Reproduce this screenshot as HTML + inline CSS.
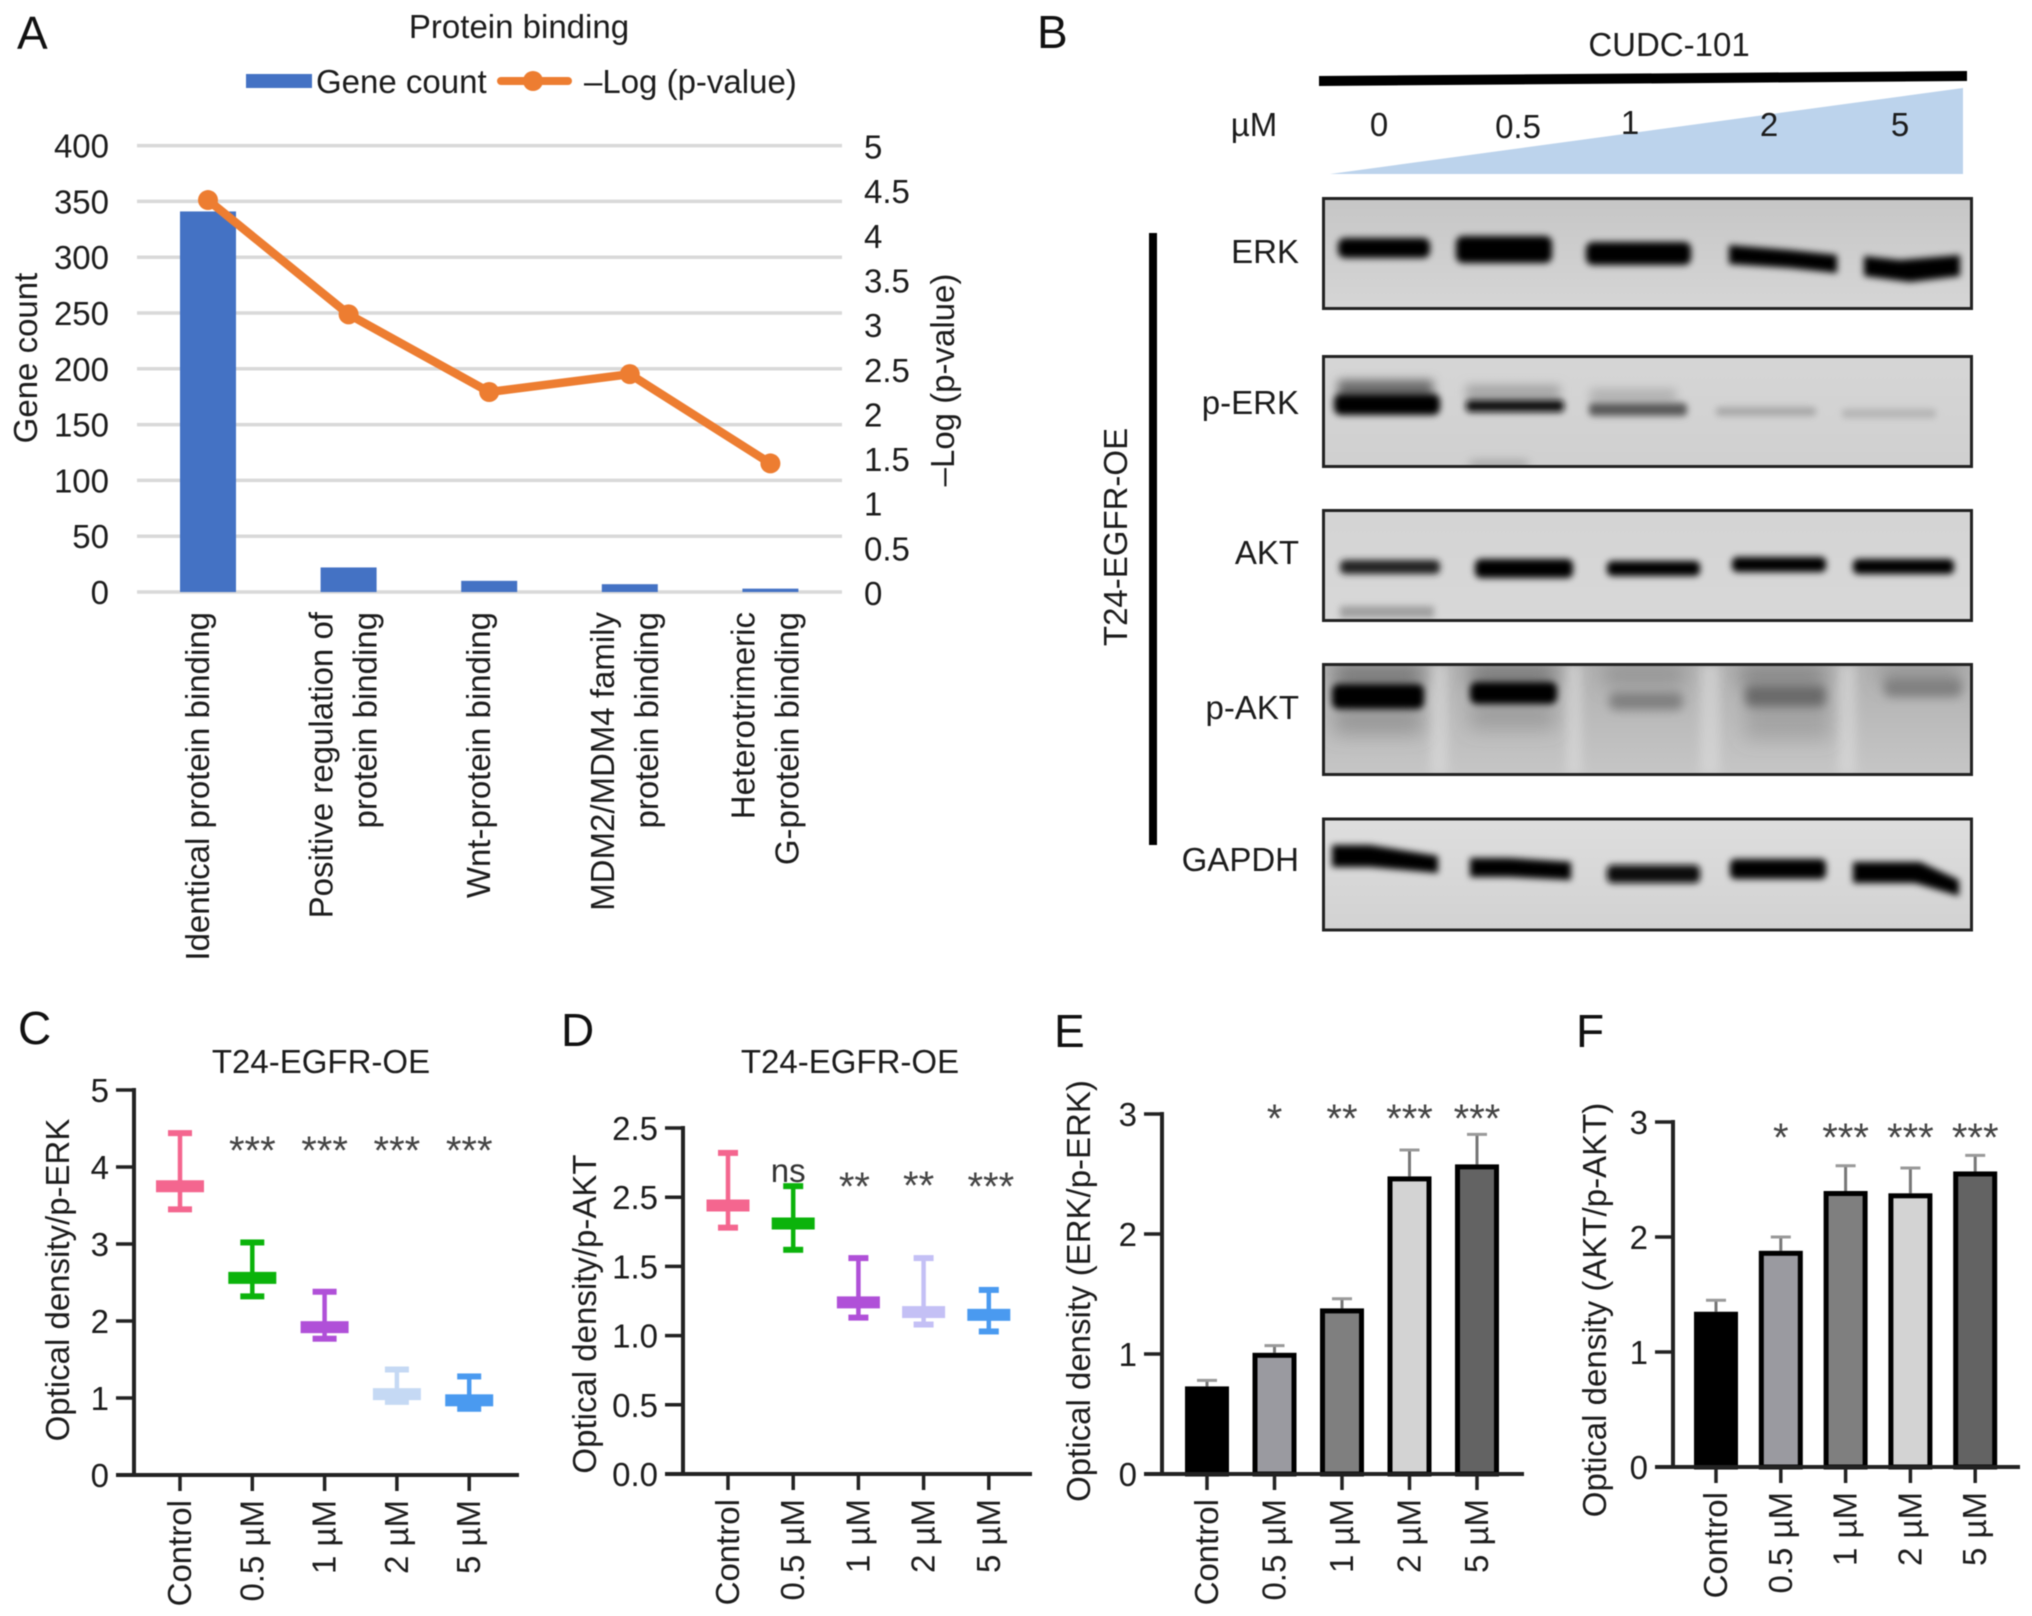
<!DOCTYPE html>
<html lang="en">
<head>
<meta charset="utf-8">
<title>Protein binding and CUDC-101 western blot figure</title>
<style>
html,body{margin:0;padding:0;background:#fff;}
svg{display:block;filter:blur(0.6px);}
text{font-family:"Liberation Sans",sans-serif;fill:#1c1c1c;font-size:33px;}
.panel{font-size:46px;fill:#111;}
</style>
</head>
<body>
<svg id="figure" xmlns="http://www.w3.org/2000/svg" width="2032" height="1616" viewBox="0 0 2032 1616">
<defs>
<filter id="b2" x="-30%" y="-200%" width="160%" height="500%"><feGaussianBlur stdDeviation="3.5"/></filter>
<filter id="b4" x="-30%" y="-200%" width="160%" height="500%"><feGaussianBlur stdDeviation="5"/></filter>
<filter id="b7" x="-40%" y="-150%" width="180%" height="400%"><feGaussianBlur stdDeviation="9"/></filter>
<clipPath id="clip-erk"><rect x="1322" y="197" width="650" height="113"/></clipPath>
<clipPath id="clip-perk"><rect x="1322" y="355" width="650" height="112"/></clipPath>
<clipPath id="clip-akt"><rect x="1322" y="510" width="650" height="111"/></clipPath>
<clipPath id="clip-pakt"><rect x="1322" y="664" width="650" height="111"/></clipPath>
<clipPath id="clip-gapdh"><rect x="1322" y="818" width="650" height="112"/></clipPath>
<linearGradient id="g-erk" x1="0" y1="0" x2="0" y2="1"><stop offset="0" stop-color="#c6c6c6"/><stop offset="1" stop-color="#d6d6d6"/></linearGradient>
<linearGradient id="g-perk" x1="0" y1="0" x2="0" y2="1"><stop offset="0" stop-color="#d6d6d6"/><stop offset="1" stop-color="#d0d0d0"/></linearGradient>
<linearGradient id="g-akt" x1="0" y1="0" x2="0" y2="1"><stop offset="0" stop-color="#d4d4d4"/><stop offset="1" stop-color="#d8d8d8"/></linearGradient>
<linearGradient id="g-pakt" x1="0" y1="0" x2="0" y2="1"><stop offset="0" stop-color="#b0b0b0"/><stop offset="1" stop-color="#c6c6c6"/></linearGradient>
<linearGradient id="g-gapdh" x1="0" y1="0" x2="0" y2="1"><stop offset="0" stop-color="#dedede"/><stop offset="1" stop-color="#d2d2d2"/></linearGradient>
</defs>

<!-- Panel letters -->
<text class="panel" x="17" y="49">A</text>
<text class="panel" x="1037" y="48">B</text>
<text class="panel" x="18" y="1044">C</text>
<text class="panel" x="561" y="1046">D</text>
<text class="panel" x="1054" y="1047">E</text>
<text class="panel" x="1576" y="1047">F</text>

<!-- Panel A static parts -->
<text x="519" y="38" text-anchor="middle">Protein binding</text>
<g>
<rect x="246" y="74" width="66" height="14" fill="#4472c4"/>
<text x="316" y="93">Gene count</text>
<line x1="501" y1="81" x2="568" y2="81" stroke="#ed7d31" stroke-width="8" stroke-linecap="round"/>
<circle cx="533" cy="81" r="10" fill="#ed7d31"/>
<text x="584" y="93">–Log (p-value)</text>
</g>
<text transform="translate(37 358) rotate(-90)" text-anchor="middle">Gene count</text>
<text transform="translate(954 380) rotate(-90)" text-anchor="middle">–Log (p-value)</text>

<!-- Panel B -->
<g>
<text x="1669" y="56" text-anchor="middle">CUDC-101</text>
<polygon points="1319,76 1967,71 1967,81 1319,86" fill="#000"/>
<polygon points="1330,174 1963,174 1963,88" fill="#bcd3ec"/>
<text x="1254" y="136" text-anchor="middle">µM</text>
<text x="1379" y="136" text-anchor="middle">0</text>
<text x="1518" y="138" text-anchor="middle">0.5</text>
<text x="1630" y="134" text-anchor="middle">1</text>
<text x="1769" y="136" text-anchor="middle">2</text>
<text x="1900" y="136" text-anchor="middle">5</text>
<rect x="1149" y="233" width="8" height="612" fill="#000"/>
<text transform="translate(1127 537) rotate(-90)" text-anchor="middle">T24-EGFR-OE</text>
<text x="1299" y="263" text-anchor="end">ERK</text>
<text x="1299" y="414" text-anchor="end">p-ERK</text>
<text x="1299" y="564" text-anchor="end">AKT</text>
<text x="1299" y="719" text-anchor="end">p-AKT</text>
<text x="1299" y="871" text-anchor="end">GAPDH</text>

<g clip-path="url(#clip-erk)">
<rect x="1322" y="197" width="650" height="113" fill="url(#g-erk)"/>
<g filter="url(#b2)" fill="#050505">
<rect x="1338" y="238" width="92" height="20" rx="7"/>
<rect x="1456" y="236" width="96" height="27" rx="7"/>
<rect x="1586" y="242" width="105" height="23" rx="7"/>
<polygon points="1729,245 1790,250 1837,255 1837,273 1790,268 1729,264"/>
<polygon points="1864,256 1900,260 1960,255 1960,276 1910,282 1864,276"/>
</g>
</g>

<g clip-path="url(#clip-perk)">
<rect x="1322" y="355" width="650" height="112" fill="url(#g-perk)"/>
<g filter="url(#b4)">
<rect x="1338" y="380" width="95" height="18" fill="#6a6a6a"/>
<rect x="1466" y="385" width="94" height="14" fill="#a4a4a4"/>
<rect x="1590" y="389" width="86" height="13" fill="#b0b0b0"/>
<rect x="1470" y="461" width="58" height="7" fill="#999"/>
</g>
<g filter="url(#b2)">
<rect x="1334" y="394" width="106" height="21" rx="7" fill="#000"/>
<rect x="1466" y="400" width="98" height="12" rx="4" fill="#111"/>
<rect x="1589" y="403" width="98" height="13" rx="4" fill="#5a5a5a"/>
<rect x="1716" y="407" width="100" height="9" rx="3" fill="#a8a8a8"/>
<rect x="1842" y="409" width="94" height="9" rx="3" fill="#b4b4b4"/>
</g>
</g>

<g clip-path="url(#clip-akt)">
<rect x="1322" y="510" width="650" height="111" fill="url(#g-akt)"/>
<g filter="url(#b2)">
<rect x="1340" y="560" width="100" height="14" rx="5" fill="#222"/>
<rect x="1475" y="559" width="98" height="19" rx="6" fill="#000"/>
<rect x="1607" y="561" width="93" height="15" rx="5" fill="#050505"/>
<rect x="1732" y="557" width="94" height="15" rx="5" fill="#050505"/>
<rect x="1853" y="559" width="101" height="15" rx="5" fill="#000"/>
<rect x="1340" y="606" width="94" height="12" fill="#a0a0a0"/>
</g>
</g>

<g clip-path="url(#clip-pakt)">
<rect x="1322" y="664" width="650" height="111" fill="url(#g-pakt)"/>
<g filter="url(#b4)" fill="#dcdcdc" opacity=".6">
<rect x="1430" y="664" width="18" height="111"/>
<rect x="1566" y="664" width="16" height="111"/>
<rect x="1700" y="664" width="20" height="111"/>
<rect x="1838" y="664" width="18" height="111"/>
</g>
<g filter="url(#b7)" fill="#777">
<rect x="1334" y="664" width="88" height="24"/>
<rect x="1470" y="664" width="85" height="22"/>
<rect x="1604" y="664" width="80" height="22" opacity=".5"/>
<rect x="1740" y="664" width="85" height="24" opacity=".7"/>
<rect x="1880" y="664" width="80" height="20" opacity=".5"/>
<rect x="1334" y="705" width="88" height="30" opacity=".5"/>
<rect x="1470" y="700" width="85" height="30" opacity=".4"/>
<rect x="1745" y="700" width="85" height="40" opacity=".35"/>
</g>
<g filter="url(#b2)">
<rect x="1332" y="684" width="92" height="25" rx="7" fill="#000"/>
<rect x="1470" y="682" width="87" height="22" rx="7" fill="#050505"/>
</g>
<g filter="url(#b4)">
<rect x="1609" y="692" width="74" height="18" rx="7" fill="#808080"/>
<rect x="1745" y="685" width="81" height="22" rx="7" fill="#6a6a6a"/>
<rect x="1884" y="678" width="78" height="19" rx="7" fill="#808080"/>
</g>
</g>

<g clip-path="url(#clip-gapdh)">
<rect x="1322" y="818" width="650" height="112" fill="url(#g-gapdh)"/>
<g filter="url(#b2)" fill="#000">
<polygon points="1332,845 1370,845 1438,856 1438,873 1370,867 1332,867"/>
<polygon points="1470,858 1510,858 1571,862 1571,880 1510,877 1470,877"/>
<rect x="1607" y="865" width="93" height="18" rx="5" fill="#111"/>
<rect x="1730" y="859" width="96" height="20" rx="5"/>
<polygon points="1853,862 1920,862 1959,880 1959,896 1915,883 1853,883"/>
</g>
</g>
<g fill="none" stroke="#222" stroke-width="3">
<rect x="1323.5" y="198.5" width="648" height="110"/>
<rect x="1323.5" y="356.5" width="648" height="110"/>
<rect x="1323.5" y="510.5" width="648" height="110"/>
<rect x="1323.5" y="664.5" width="648" height="110"/>
<rect x="1323.5" y="819" width="648" height="111"/>
</g>
</g>

<!-- Panel C and D static titles -->
<text x="321" y="1073" text-anchor="middle">T24-EGFR-OE</text>
<text x="850" y="1073" text-anchor="middle">T24-EGFR-OE</text>
<text transform="translate(69 1280) rotate(-90)" text-anchor="middle">Optical density/p-ERK</text>
<text transform="translate(596 1314) rotate(-90)" text-anchor="middle">Optical density/p-AKT</text>
<text transform="translate(1090 1291) rotate(-90)" text-anchor="middle">Optical density (ERK/p-ERK)</text>
<text transform="translate(1606 1310) rotate(-90)" text-anchor="middle">Optical density (AKT/p-AKT)</text>

<g id="charts"></g>
</svg>
<script>
// Panel A data
const aCategories = [["Identical protein binding"],["Positive regulation of","protein binding"],["Wnt-protein binding"],["MDM2/MDM4 family","protein binding"],["Heterotrimeric","G-protein binding"]];
const aGeneCounts = [341,22,10,7,3];
const aLogP = [4.39,3.11,2.24,2.44,1.44];
const aLeftTicks = [0,50,100,150,200,250,300,350,400];
const aRightTicks = [0,0.5,1,1.5,2,2.5,3,3.5,4,4.5,5];

// Shared doses
const doseLabels = ["Control","0.5 µM","1 µM","2 µM","5 µM"];

// Panel C data
const cMeans = [3.75,2.56,1.92,1.05,0.97];
const cHighs = [4.44,3.02,2.38,1.37,1.28];
const cLows = [3.45,2.32,1.77,0.95,0.86];
const cTicks = [0,1,2,3,4,5];
const cTickLabels = ["0","1","2","3","4","5"];
const cMarks = ["","***","***","***","***"];

// Panel D data
const dMeans = [1.94,1.81,1.24,1.17,1.15];
const dHighs = [2.32,2.08,1.56,1.56,1.33];
const dLows = [1.78,1.62,1.13,1.08,1.03];
const dTicks = [0,0.5,1,1.5,2,2.5];
const dTickLabels = ["0.0","0.5","1.0","1.5","2.5","2.5"];
const dMarks = ["","ns","**","**","***"];

// Panel E data
const eValues = [0.73,1.01,1.38,2.48,2.58];
const eErrorTops = [0.78,1.07,1.46,2.70,2.83];
const eTicks = [0,1,2,3];
const eMarks = ["","*","**","***","***"];

// Panel F data
const fValues = [1.35,1.88,2.40,2.38,2.57];
const fErrorTops = [1.45,2.00,2.62,2.60,2.71];
const fTicks = [0,1,2,3];
const fMarks = ["","*","***","***","***"];

const NS = 'http://www.w3.org/2000/svg';
const root = document.getElementById('charts');
function make(parent, tag, props, content) {
  const el = document.createElementNS(NS, tag);
  for (const k in props) el.setAttribute(k, props[k]);
  if (content !== undefined) el.textContent = content;
  parent.appendChild(el);
  return el;
}
function group(name) {
  const g = make(root, 'g', {});
  
  
  return g;
}
function linear(d0, d1, r0, r1) {
  return v => r0 + (v - d0) / (d1 - d0) * (r1 - r0);
}

/* ---------- Panel A ---------- */
(function () {
  const g = group('chart-a');
  const xCenters = aCategories.map((c, i) => 208 + i * 140.6);
  const yLeft = linear(0, 400, 592, 145.6);
  const yRight = linear(0, 5, 592, 145.6);
  aLeftTicks.forEach(t => {
    const grid = make(g, 'line', {x1: 137, x2: 842, y1: yLeft(t), y2: yLeft(t), stroke: '#d9d9d9', 'stroke-width': 3.5});
    
    
    const lab = make(g, 'text', {x: 109, y: yLeft(t) + 12, 'text-anchor': 'end'}, String(t));
    
    
  });
  aRightTicks.forEach(t => {
    const lab = make(g, 'text', {x: 864, y: yRight(t) + 13}, String(t));
    
    
  });
  aGeneCounts.forEach((v, i) => {
    const bar = make(g, 'rect', {x: xCenters[i] - 28, y: yLeft(v), width: 56, height: yLeft(0) - yLeft(v), fill: '#4472c4'});
    
    
  });
  const pts = aLogP.map((v, i) => xCenters[i] + ',' + yRight(v)).join(' ');
  const line = make(g, 'polyline', {points: pts, fill: 'none', stroke: '#ed7d31', 'stroke-width': 8.5, 'stroke-linejoin': 'round', 'stroke-linecap': 'round'});
  
  
  aLogP.forEach((v, i) => {
    const dot = make(g, 'circle', {cx: xCenters[i], cy: yRight(v), r: 10, fill: '#ed7d31'});
    
    
  });
  aCategories.forEach((lines, i) => {
    lines.forEach((txt, j) => {
      const base = lines.length === 1 ? xCenters[i] + 1 : xCenters[i] + 6 + (j - 0.5) * 44;
      const lab = make(g, 'text', {x: base, y: 612, 'text-anchor': 'end', transform: 'rotate(-90 ' + base + ' 612)'}, txt);
      
      
    });
  });
})();

/* ---------- Shared axes for C-F ---------- */
function drawAxes(g, o, y, ticks, labels) {
  const yAxis = make(g, 'line', {x1: o.axisX, x2: o.axisX, y1: y(ticks[ticks.length - 1]) - 2, y2: y(0) + 2, stroke: '#222', 'stroke-width': 4});
  
  
  const xAxis = make(g, 'line', {x1: o.axisX - 18, x2: o.axisEnd, y1: y(0), y2: y(0), stroke: '#222', 'stroke-width': 4});
  
  
  ticks.forEach((t, i) => {
    const tick = make(g, 'line', {x1: o.axisX - 18, x2: o.axisX, y1: y(t), y2: y(t), stroke: '#222', 'stroke-width': 3.5});
    
    
    const lab = make(g, 'text', {x: o.axisX - 25, y: y(t) + 12, 'text-anchor': 'end'}, labels[i]);
    
    
  });
  doseLabels.forEach((txt, i) => {
    const x = o.xStart + i * o.xStep;
    const tick = make(g, 'line', {x1: x, x2: x, y1: y(0), y2: y(0) + 16, stroke: '#222', 'stroke-width': 3.5});
    
    
    const bx = x + 11;
    const top = y(0) + 25;
    const lab = make(g, 'text', {x: bx, y: top, 'text-anchor': 'end', transform: 'rotate(-90 ' + bx + ' ' + top + ')'}, txt);
    
    
  });
}
function drawMarks(g, o, marks) {
  marks.forEach((m, i) => {
    if (!m) return;
    const x = o.xStart + i * o.xStep;
    const isNs = m === 'ns';
    const yy = isNs ? o.markY[i] + 12 : o.markY[i] + 18;
    const lab = make(g, 'text', {x: x + (o.markDx ? o.markDx[i] : 0), y: yy, 'text-anchor': 'middle', style: isNs ? 'fill:#333' : 'fill:#444;font-size:40px'}, m);
    
    
  });
}

/* ---------- Panels C, D ---------- */
function drawBoxPanel(name, o, means, highs, lows, ticks, labels, marks) {
  const g = group(name);
  const y = linear(0, ticks[ticks.length - 1], o.y0, o.yTop);
  means.forEach((m, i) => {
    const x = o.xStart + i * o.xStep;
    const c = o.colors[i];
    const stem = make(g, 'line', {x1: x, x2: x, y1: y(highs[i]), y2: y(lows[i]), stroke: c, 'stroke-width': 4.5});
    
    
    [highs[i], lows[i]].forEach(v => {
      const cap = make(g, 'rect', {x: x - o.capW / 2, y: y(v) - 3, width: o.capW, height: 6, fill: c});
      
      
    });
    const band = make(g, 'rect', {x: x - o.bandW / 2, y: y(m) - 6, width: o.bandW, height: 12, fill: c});
    
    
  });
  drawAxes(g, o, y, ticks, labels);
  drawMarks(g, o, marks);
}
drawBoxPanel('chart-c', {axisX: 134, axisEnd: 519, xStart: 180, xStep: 72.3, y0: 1475, yTop: 1090, capW: 24, bandW: 48,
  colors: ['#f4668f','#0bb30b','#b050d8','#c5d9f4','#4a9af0'], markY: [0,1146,1146,1146,1146]},
  cMeans, cHighs, cLows, cTicks, cTickLabels, cMarks);
drawBoxPanel('chart-d', {axisX: 683, axisEnd: 1032, xStart: 728, xStep: 65.2, y0: 1474, yTop: 1128, capW: 20, bandW: 43,
  colors: ['#f4668f','#0bb30b','#b050d8','#c4c0f5','#4a9af0'], markY: [0,1170,1182,1181,1182], markDx: [0,-5,-4,-5,2]},
  dMeans, dHighs, dLows, dTicks, dTickLabels, dMarks);

/* ---------- Panels E, F ---------- */
function drawBarPanel(name, o, values, errorTops, ticks, marks) {
  const g = group(name);
  const y = linear(0, ticks[ticks.length - 1], o.y0, o.yTop);
  values.forEach((v, i) => {
    const x = o.xStart + i * o.xStep;
    const stem = make(g, 'line', {x1: x, x2: x, y1: y(v), y2: y(errorTops[i]), stroke: '#777', 'stroke-width': 3});
    
    
    const cap = make(g, 'line', {x1: x - 10, x2: x + 10, y1: y(errorTops[i]), y2: y(errorTops[i]), stroke: '#999', 'stroke-width': 3});
    
    
    const bar = make(g, 'rect', {x: x - 19.5, y: y(v) + 2.5, width: 39, height: y(0) - y(v) - 2.5, fill: o.fills[i], stroke: '#000', 'stroke-width': 5});
    
    
  });
  drawAxes(g, o, y, ticks, ticks.map(String));
  drawMarks(g, o, marks);
}
drawBarPanel('chart-e', {axisX: 1162, axisEnd: 1524, xStart: 1207, xStep: 67.5, y0: 1474, yTop: 1114,
  fills: ['#000000','#9a9aa0','#7f7f7f','#d3d3d3','#636363'], markY: [0,1114,1114,1114,1114]},
  eValues, eErrorTops, eTicks, eMarks);
drawBarPanel('chart-f', {axisX: 1673, axisEnd: 2020, xStart: 1716, xStep: 64.8, y0: 1467, yTop: 1122,
  fills: ['#000000','#9a9aa0','#7f7f7f','#d3d3d3','#636363'], markY: [0,1133,1133,1133,1133]},
  fValues, fErrorTops, fTicks, fMarks);
</script>
</body>
</html>
